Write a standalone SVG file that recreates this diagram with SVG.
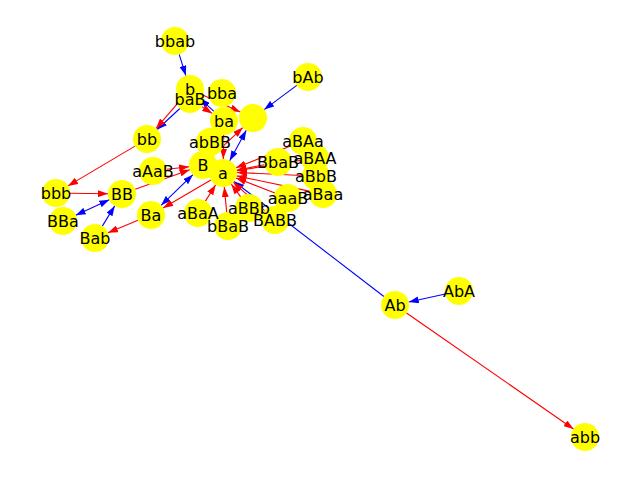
<svg xmlns="http://www.w3.org/2000/svg" width="640" height="480" viewBox="0 0 640 480">
<style>
.e{fill:none;stroke-width:1.1}
.r{stroke:#ff0000}
.b{stroke:#0000ff}
.r.h{marker-end:url(#ar)}
.b.h{marker-end:url(#ab)}
.b.d{marker-start:url(#ab);marker-end:url(#ab)}
.node circle{fill:#ffff00;stroke:none}
.lbl{font-family:"DejaVu Sans","Liberation Sans",sans-serif;font-size:16px;fill:#000;text-anchor:middle;dominant-baseline:central}
</style>
<defs>
<marker id="ar" markerUnits="userSpaceOnUse" markerWidth="10" markerHeight="7" refX="10" refY="3.5" orient="auto-start-reverse"><path d="M0,0 L10,3.5 L0,7 z" fill="#ff0000"/></marker>
<marker id="ab" markerUnits="userSpaceOnUse" markerWidth="10" markerHeight="7" refX="10" refY="3.5" orient="auto-start-reverse"><path d="M0,0 L10,3.5 L0,7 z" fill="#0000ff"/></marker>
</defs>
<rect width="640" height="480" fill="#ffffff"/>
<g id="edges">
<line class="e b h" x1="179.2" y1="54.4" x2="185.8" y2="75.6"/>
<line class="e b h" x1="296.8" y1="85.4" x2="264.2" y2="109.6"/>
<line class="e b h" x1="179.8" y1="108.5" x2="157.2" y2="129.5"/>
<line class="e b h" x1="213.8" y1="111.4" x2="200.2" y2="98.6"/>
<line class="e b d" x1="246.3" y1="130.3" x2="229.7" y2="160.7"/>
<line class="e b d" x1="192.9" y1="174.7" x2="161.1" y2="205.3"/>
<line class="e b d" x1="109.3" y1="199.8" x2="75.7" y2="215.2"/>
<line class="e b h" x1="102.3" y1="226.1" x2="114.7" y2="205.9"/>
<line class="e b h" x1="383.9" y1="296.5" x2="234.1" y2="181.5"/>
<line class="e b h" x1="445.3" y1="294" x2="408.7" y2="302"/>
<line class="e r h" x1="406.5" y1="313" x2="573.5" y2="429"/>
<line class="e r h" x1="135" y1="146.1" x2="68" y2="185.9"/>
<line class="e r h" x1="70" y1="193.2" x2="108" y2="193.8"/>
<line class="e r h" x1="138" y1="220.3" x2="108" y2="232.7"/>
<line class="e r h" x1="180.9" y1="99.6" x2="156.1" y2="128.4"/>
<line class="e r h" x1="201.8" y1="106.6" x2="212.2" y2="113.4"/>
<line class="e r h" x1="202.7" y1="94.9" x2="240.3" y2="112.1"/>
<line class="e r h" x1="223.7" y1="135" x2="223.3" y2="159"/>
<line class="e r h" x1="213.2" y1="155.4" x2="242.8" y2="127.6"/>
<line class="e r h" x1="166.9" y1="169.3" x2="189.1" y2="166.7"/>
<line class="e r h" x1="135.2" y1="189.3" x2="189.8" y2="169.7"/>
<line class="e r h" x1="210.9" y1="180.1" x2="163.1" y2="207.9"/>
<line class="e r h" x1="264.3" y1="164.7" x2="236.7" y2="170.3"/>
<line class="e r h" x1="290" y1="146.2" x2="236" y2="167.8"/>
<line class="e r h" x1="301.2" y1="160.3" x2="236.8" y2="170.7"/>
<line class="e r h" x1="302" y1="175.5" x2="237" y2="172.5"/>
<line class="e r h" x1="274.9" y1="193" x2="236.1" y2="178"/>
<line class="e r h" x1="309.3" y1="191.1" x2="236.7" y2="175.9"/>
<line class="e r h" x1="240.7" y1="196.8" x2="231.3" y2="184.2"/>
<line class="e r h" x1="264.6" y1="210.6" x2="233.4" y2="182.4"/>
<line class="e r h" x1="226.7" y1="212.1" x2="224.3" y2="187.1"/>
<line class="e r h" x1="205.4" y1="201.1" x2="215.6" y2="184.9"/>
</g>
<g id="nodes">
<g id="node-bbab" class="node"><circle cx="175" cy="41" r="14"/></g>
<g id="node-b" class="node"><circle cx="190" cy="89" r="14"/></g>
<g id="node-baB" class="node"><circle cx="190" cy="99" r="14"/></g>
<g id="node-bba" class="node"><circle cx="222" cy="93" r="14"/></g>
<g id="node-ba" class="node"><circle cx="224" cy="121" r="14"/></g>
<g id="node-empty" class="node"><circle cx="253" cy="118" r="14"/></g>
<g id="node-bAb" class="node"><circle cx="308" cy="77" r="14"/></g>
<g id="node-bb" class="node"><circle cx="147" cy="139" r="14"/></g>
<g id="node-abBB" class="node"><circle cx="210" cy="142" r="14"/></g>
<g id="node-B" class="node"><circle cx="203" cy="165" r="14"/></g>
<g id="node-a" class="node"><circle cx="223" cy="173" r="14"/></g>
<g id="node-aAaB" class="node"><circle cx="153" cy="171" r="14"/></g>
<g id="node-BbaB" class="node"><circle cx="278" cy="162" r="14"/></g>
<g id="node-aBAa" class="node"><circle cx="303" cy="141" r="14"/></g>
<g id="node-aBAA" class="node"><circle cx="315" cy="158" r="14"/></g>
<g id="node-aBbB" class="node"><circle cx="316" cy="176" r="14"/></g>
<g id="node-aaaB" class="node"><circle cx="288" cy="198" r="14"/></g>
<g id="node-aBaa" class="node"><circle cx="323" cy="194" r="14"/></g>
<g id="node-aBBb" class="node"><circle cx="249" cy="208" r="14"/></g>
<g id="node-BABB" class="node"><circle cx="275" cy="220" r="14"/></g>
<g id="node-aBaA" class="node"><circle cx="198" cy="213" r="14"/></g>
<g id="node-bBaB" class="node"><circle cx="228" cy="226" r="14"/></g>
<g id="node-Ba" class="node"><circle cx="151" cy="215" r="14"/></g>
<g id="node-bbb" class="node"><circle cx="56" cy="193" r="14"/></g>
<g id="node-BB" class="node"><circle cx="122" cy="194" r="14"/></g>
<g id="node-BBa" class="node"><circle cx="63" cy="221" r="14"/></g>
<g id="node-Bab" class="node"><circle cx="95" cy="238" r="14"/></g>
<g id="node-Ab" class="node"><circle cx="395" cy="305" r="14"/></g>
<g id="node-AbA" class="node"><circle cx="459" cy="291" r="14"/></g>
<g id="node-abb" class="node"><circle cx="585" cy="437" r="14"/></g>
</g>
<g id="labels">
<text class="lbl" x="175" y="41">bbab</text>
<text class="lbl" x="190" y="89">b</text>
<text class="lbl" x="190" y="99">baB</text>
<text class="lbl" x="222" y="93">bba</text>
<text class="lbl" x="224" y="121">ba</text>
<text class="lbl" x="308" y="77">bAb</text>
<text class="lbl" x="147" y="139">bb</text>
<text class="lbl" x="210" y="142">abBB</text>
<text class="lbl" x="203" y="165">B</text>
<text class="lbl" x="223" y="173">a</text>
<text class="lbl" x="153" y="171">aAaB</text>
<text class="lbl" x="278" y="162">BbaB</text>
<text class="lbl" x="303" y="141">aBAa</text>
<text class="lbl" x="315" y="158">aBAA</text>
<text class="lbl" x="316" y="176">aBbB</text>
<text class="lbl" x="288" y="198">aaaB</text>
<text class="lbl" x="323" y="194">aBaa</text>
<text class="lbl" x="249" y="208">aBBb</text>
<text class="lbl" x="275" y="220">BABB</text>
<text class="lbl" x="198" y="213">aBaA</text>
<text class="lbl" x="228" y="226">bBaB</text>
<text class="lbl" x="151" y="215">Ba</text>
<text class="lbl" x="56" y="193">bbb</text>
<text class="lbl" x="122" y="194">BB</text>
<text class="lbl" x="63" y="221">BBa</text>
<text class="lbl" x="95" y="238">Bab</text>
<text class="lbl" x="395" y="305">Ab</text>
<text class="lbl" x="459" y="291">AbA</text>
<text class="lbl" x="585" y="437">abb</text>
</g>
</svg>
